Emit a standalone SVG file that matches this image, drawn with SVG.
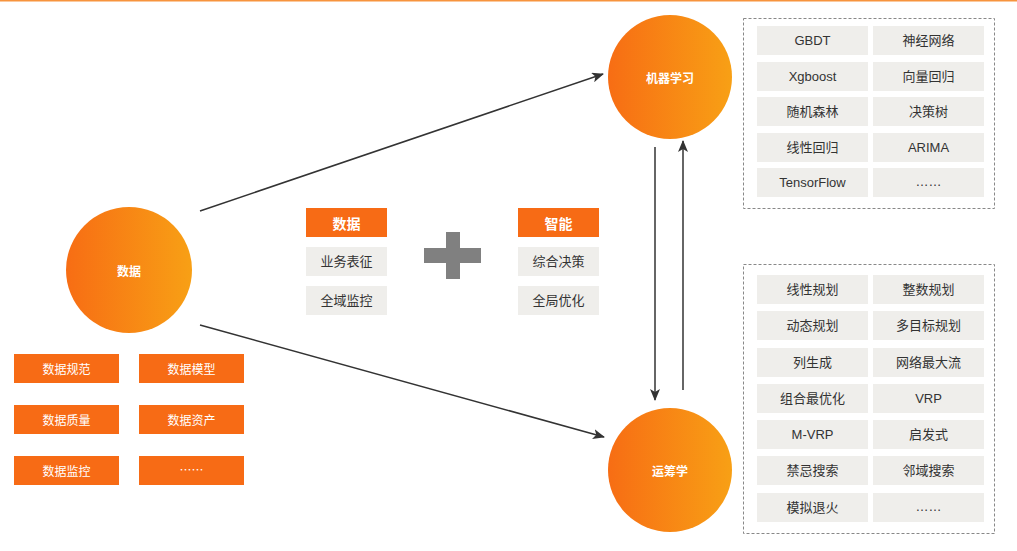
<svg xmlns="http://www.w3.org/2000/svg" width="1017" height="551" viewBox="0 0 1017 551">
<defs>
<linearGradient id="g" x1="0" y1="0" x2="1" y2="0">
<stop offset="0" stop-color="#f76d14"/>
<stop offset="1" stop-color="#f8a015"/>
</linearGradient>
<marker id="ah" viewBox="0 0 12 10" refX="11" refY="5" markerWidth="12" markerHeight="10" markerUnits="userSpaceOnUse" orient="auto">
<path d="M0,0 L12,5 L0,10 L3,5 Z" fill="#333"/>
</marker>
<style>
text{font-family:"Noto Sans CJK SC","Liberation Sans",sans-serif;text-anchor:middle;dominant-baseline:central}
.circ{fill:url(#g)}
.ct{fill:#fff;font-size:12px;font-weight:bold}
.ob{fill:#f76b15}
.ot{fill:#fff;font-size:12px}
.oh{fill:#fff;font-size:14px;font-weight:bold}
.gc{fill:#efeeeb}
.gt{fill:#333;font-size:13px;font-family:"Liberation Sans","Noto Sans CJK SC",sans-serif}
.dash{fill:none;stroke:#888;stroke-width:1;stroke-dasharray:3,2}
.ln{stroke:#333;stroke-width:1.5;fill:none;marker-end:url(#ah)}
</style>
</defs>
<rect x="0" y="0" width="1017" height="551" fill="#fff"/>
<rect x="0" y="0" width="1017" height="1.5" fill="#f7943d"/>

<g id="connectors">
<line class="ln" x1="200" y1="211" x2="603" y2="74"/>
<line class="ln" x1="200" y1="325" x2="604" y2="437"/>
<line class="ln" x1="655" y1="147" x2="655" y2="400"/>
<line class="ln" x1="683" y1="390" x2="683" y2="141"/>
</g>

<g id="node-data">
<circle class="circ" cx="129" cy="270" r="63"/>
<text class="ct" x="129" y="270">数据</text>
</g>
<g id="node-ml">
<circle class="circ" cx="670" cy="77" r="62"/>
<text class="ct" x="670" y="77">机器学习</text>
</g>
<g id="node-or">
<circle class="circ" cx="670" cy="470" r="62"/>
<text class="ct" x="670" y="470">运筹学</text>
</g>

<g id="data-items">
<rect class="ob" x="14" y="354" width="105" height="29"/><text class="ot" x="66.5" y="368.5">数据规范</text>
<rect class="ob" x="139" y="354" width="105" height="29"/><text class="ot" x="191.5" y="368.5">数据模型</text>
<rect class="ob" x="14" y="405" width="105" height="29"/><text class="ot" x="66.5" y="419.5">数据质量</text>
<rect class="ob" x="139" y="405" width="105" height="29"/><text class="ot" x="191.5" y="419.5">数据资产</text>
<rect class="ob" x="14" y="456" width="105" height="29"/><text class="ot" x="66.5" y="470.5">数据监控</text>
<rect class="ob" x="139" y="456" width="105" height="29"/><text class="ot" x="191.5" y="469.5">……</text>
</g>

<g id="mid-data">
<rect class="ob" x="306" y="208" width="81" height="29"/><text class="oh" x="346.5" y="222.5">数据</text>
<rect class="gc" x="306" y="247" width="81" height="29"/><text class="gt" x="346.5" y="261.5">业务表征</text>
<rect class="gc" x="306" y="286" width="81" height="29"/><text class="gt" x="346.5" y="300.5">全域监控</text>
</g>
<g id="plus">
<rect x="424" y="248" width="57" height="15" fill="#808080"/>
<rect x="446" y="232" width="14" height="47" fill="#808080"/>
</g>
<g id="mid-intel">
<rect class="ob" x="518" y="208" width="81" height="29"/><text class="oh" x="558.5" y="222.5">智能</text>
<rect class="gc" x="518" y="247" width="81" height="29"/><text class="gt" x="558.5" y="261.5">综合决策</text>
<rect class="gc" x="518" y="286" width="81" height="29"/><text class="gt" x="558.5" y="300.5">全局优化</text>
</g>

<g id="ml-box">
<rect class="dash" x="743.5" y="18.5" width="251" height="190"/>
<rect class="gc" x="757" y="26" width="111" height="29"/><text class="gt" x="812.5" y="40.5">GBDT</text>
<rect class="gc" x="873" y="26" width="111" height="29"/><text class="gt" x="928.5" y="40.5">神经网络</text>
<rect class="gc" x="757" y="62" width="111" height="29"/><text class="gt" x="812.5" y="76.5">Xgboost</text>
<rect class="gc" x="873" y="62" width="111" height="29"/><text class="gt" x="928.5" y="76.5">向量回归</text>
<rect class="gc" x="757" y="97" width="111" height="29"/><text class="gt" x="812.5" y="111.5">随机森林</text>
<rect class="gc" x="873" y="97" width="111" height="29"/><text class="gt" x="928.5" y="111.5">决策树</text>
<rect class="gc" x="757" y="133" width="111" height="29"/><text class="gt" x="812.5" y="147.5">线性回归</text>
<rect class="gc" x="873" y="133" width="111" height="29"/><text class="gt" x="928.5" y="147.5">ARIMA</text>
<rect class="gc" x="757" y="168" width="111" height="29"/><text class="gt" x="812.5" y="182.5">TensorFlow</text>
<rect class="gc" x="873" y="168" width="111" height="29"/><text class="gt" x="928.5" y="181.5">……</text>
</g>

<g id="or-box">
<rect class="dash" x="743.5" y="264.5" width="251" height="269"/>
<rect class="gc" x="757" y="275" width="111" height="29"/><text class="gt" x="812.5" y="289.5">线性规划</text>
<rect class="gc" x="873" y="275" width="111" height="29"/><text class="gt" x="928.5" y="289.5">整数规划</text>
<rect class="gc" x="757" y="311" width="111" height="29"/><text class="gt" x="812.5" y="325.5">动态规划</text>
<rect class="gc" x="873" y="311" width="111" height="29"/><text class="gt" x="928.5" y="325.5">多目标规划</text>
<rect class="gc" x="757" y="348" width="111" height="29"/><text class="gt" x="812.5" y="362.5">列生成</text>
<rect class="gc" x="873" y="348" width="111" height="29"/><text class="gt" x="928.5" y="362.5">网络最大流</text>
<rect class="gc" x="757" y="384" width="111" height="29"/><text class="gt" x="812.5" y="398.5">组合最优化</text>
<rect class="gc" x="873" y="384" width="111" height="29"/><text class="gt" x="928.5" y="398.5">VRP</text>
<rect class="gc" x="757" y="420" width="111" height="29"/><text class="gt" x="812.5" y="434.5">M-VRP</text>
<rect class="gc" x="873" y="420" width="111" height="29"/><text class="gt" x="928.5" y="434.5">启发式</text>
<rect class="gc" x="757" y="456" width="111" height="29"/><text class="gt" x="812.5" y="470.5">禁忌搜索</text>
<rect class="gc" x="873" y="456" width="111" height="29"/><text class="gt" x="928.5" y="470.5">邻域搜索</text>
<rect class="gc" x="757" y="493" width="111" height="29"/><text class="gt" x="812.5" y="507.5">模拟退火</text>
<rect class="gc" x="873" y="493" width="111" height="29"/><text class="gt" x="928.5" y="506.5">……</text>
</g>
</svg>
